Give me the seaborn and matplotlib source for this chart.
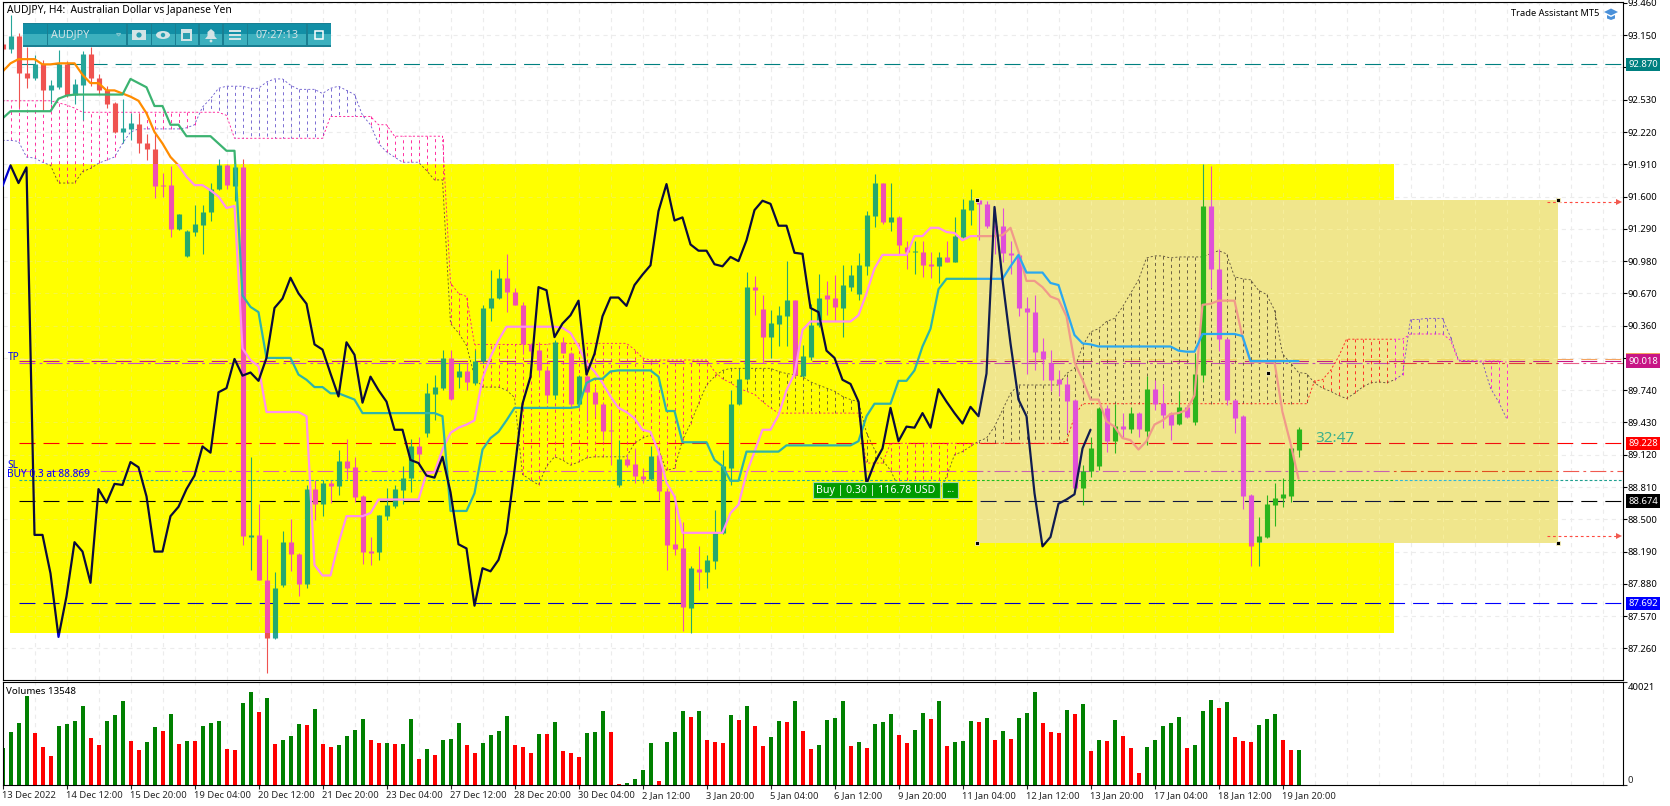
import pandas as pd
import seaborn as sns
import matplotlib
matplotlib.use('Agg')
import matplotlib.pyplot as plt
from matplotlib.patches import Rectangle, Circle, Ellipse, Polygon
from matplotlib.transforms import Bbox, TransformedBbox, blended_transform_factory

# candles, one per bar
opens = [93.07,93.02,93.14,92.79,92.74,92.87,92.62,92.65,92.87,92.58,92.67,92.97,92.74,92.62,92.50,92.22,92.25,92.30,92.11,92.06,
         91.71,91.71,91.29,91.03,91.26,91.33,91.45,91.67,91.90,91.70,91.88,88.33,88.35,87.92,87.36,87.87,88.28,88.17,87.88,88.79,
         88.65,88.85,88.82,89.06,89.00,88.72,88.20,88.19,88.53,88.63,88.78,88.90,89.20,89.33,89.70,89.76,90.05,89.87,89.92,89.81,
         90.02,90.53,90.63,90.82,90.68,90.56,90.18,90.13,89.93,89.69,90.20,90.10,89.61,89.88,89.72,89.61,89.36,88.83,89.08,89.03,
         88.92,88.89,89.12,88.77,88.26,88.22,87.65,88.02,87.99,88.10,88.37,88.99,89.61,89.85,90.73,90.52,90.25,90.38,90.45,90.61,
         89.88,90.06,90.37,90.65,90.63,90.53,90.73,90.66,90.93,91.41,91.73,91.36,91.40,91.12,91.07,91.07,90.95,90.93,91.02,90.97,
         91.21,91.47,91.57,91.53,91.32,91.32,91.06,91.04,90.53,90.49,90.12,90.00,89.85,89.80,89.65,88.80,88.96,89.01,89.57,89.25,
         89.40,89.37,89.52,89.35,89.75,89.62,89.52,89.42,89.58,89.43,89.89,91.51,90.90,90.23,89.65,89.49,88.73,88.28,88.33,88.64,
         88.70,88.72,89.17]
highs = [93.09,93.34,93.17,93.04,92.96,92.91,92.72,93.01,92.90,92.73,93.00,93.04,92.78,92.66,92.51,92.54,92.40,92.40,92.20,92.20,
         91.83,91.89,91.43,91.28,91.52,91.52,91.73,91.96,91.91,91.90,91.96,89.10,88.65,88.31,87.99,88.39,88.50,88.18,88.83,88.88,
         88.88,88.88,89.17,89.27,89.10,88.73,88.33,88.54,88.80,88.83,89.01,89.27,89.29,89.81,89.89,90.13,90.13,90.00,90.00,90.13,
         90.56,90.89,90.90,91.05,90.72,90.59,90.19,90.20,89.97,90.22,90.25,90.11,89.89,89.89,89.77,89.63,89.55,89.26,89.13,89.18,
         88.99,89.20,89.17,88.80,88.72,88.47,88.05,88.24,88.16,88.59,89.17,89.74,89.93,90.88,90.84,90.65,90.51,90.55,90.98,90.61,
         90.17,90.57,90.86,90.79,90.85,90.94,90.94,91.06,91.46,91.82,91.73,91.73,91.41,91.17,91.17,91.17,91.07,91.07,91.17,91.40,
         91.58,91.67,91.58,91.56,91.49,91.49,91.17,91.05,90.64,90.65,90.24,90.13,89.93,89.87,89.66,89.02,89.29,89.58,89.60,89.61,
         89.52,89.58,89.53,89.88,89.84,89.80,89.53,89.73,89.60,90.09,91.91,91.89,91.10,90.24,89.66,89.50,88.74,88.52,88.73,88.85,
         88.90,89.18,89.39]
lows = [93.00,92.98,92.46,92.64,92.72,92.43,92.49,92.63,92.56,92.49,92.34,92.66,92.59,92.45,92.21,92.11,92.14,92.02,91.95,91.59,
        91.60,91.21,91.28,91.02,91.22,91.05,91.37,91.66,91.67,91.56,88.25,88.01,87.92,87.02,87.35,87.85,88.00,87.76,87.84,88.49,
        88.53,88.66,88.73,88.89,88.67,88.07,88.06,88.11,88.49,88.61,88.65,88.76,89.01,89.29,89.45,89.74,89.65,89.76,89.74,89.79,
        90.00,90.40,90.62,90.49,90.56,90.09,90.08,89.87,89.62,89.66,90.10,89.57,89.58,89.44,89.49,89.26,89.02,88.81,89.00,88.85,
        88.85,88.88,88.69,88.01,88.16,87.43,87.41,87.82,87.84,88.02,88.36,88.83,89.60,89.84,90.46,90.00,90.05,90.16,90.16,89.87,
        89.87,90.03,90.35,90.46,90.40,90.25,90.69,90.61,90.85,91.31,91.34,91.27,91.05,90.90,90.86,90.83,90.82,90.77,90.97,90.97,
        91.20,91.33,91.18,91.30,91.05,90.97,90.86,90.45,89.90,89.93,89.84,89.73,89.68,89.33,88.78,88.64,88.91,88.97,89.15,89.14,
        89.29,89.33,89.29,89.21,89.55,89.38,89.26,89.41,89.47,89.41,89.82,90.72,90.12,89.60,89.33,88.60,88.05,88.05,88.32,88.44,
        88.62,88.67,89.10]
closes = [93.02,93.14,92.79,92.74,92.87,92.62,92.67,92.87,92.58,92.68,92.97,92.74,92.62,92.49,92.22,92.26,92.31,92.11,92.06,91.70,
          91.70,91.29,91.43,91.27,91.34,91.45,91.67,91.90,91.71,91.88,88.34,88.35,87.92,87.36,87.84,88.28,88.17,87.88,88.79,88.65,
          88.85,88.82,89.06,88.99,88.71,88.19,88.18,88.54,88.64,88.79,88.90,89.20,89.13,89.71,89.77,90.05,89.66,89.92,89.82,90.02,
          90.53,90.63,90.82,90.68,90.56,90.18,90.12,89.93,89.69,90.20,90.10,89.61,89.88,89.72,89.61,89.35,89.35,89.08,89.02,88.92,
          88.89,89.11,88.77,88.25,88.21,87.66,88.03,87.99,88.11,88.37,89.01,89.61,89.85,90.73,90.70,90.25,90.39,90.46,90.61,89.89,
          90.07,90.37,90.63,90.62,90.54,90.75,90.85,90.94,91.42,91.73,91.36,91.40,91.13,91.07,91.08,90.94,90.93,91.02,90.97,91.22,
          91.48,91.57,91.53,91.32,91.31,91.06,91.04,90.53,90.49,90.11,90.04,89.84,89.80,89.64,88.80,88.96,89.18,89.57,89.25,89.40,
          89.37,89.52,89.37,89.75,89.61,89.50,89.41,89.58,89.48,89.90,91.51,90.90,90.23,89.65,89.47,88.72,88.24,88.34,88.65,88.70,
          88.74,89.18,89.37]

# volumes panel
volumes = [14300,20540,24050,34580,20150,14690,11180,22880,23660,24830,30680,18200,15470,24830,27170,32630,17030,13520,16640,22490,
           20930,27560,15860,17030,17030,22880,24050,24830,13910,13520,31850,36140,28340,33800,15860,17420,18980,23660,23270,29510,
           15860,14690,15470,18980,21320,25610,17420,16250,16250,15860,15860,25610,10010,13910,11570,17420,17810,24050,15470,12350,
           16250,19370,20930,26780,15470,14690,12350,19760,19760,24440,13260,12480,10920,20280,20670,28860,20670,390,780,2340,
           5850,16380,1560,16770,20670,28860,26520,28860,17550,16770,16380,27300,25350,30810,23010,15210,18720,24960,24570,32760,
           21060,14040,15600,25350,26130,32760,15210,16770,14430,23790,24570,27690,19500,16380,21450,28080,25740,32760,15210,16770,
           17160,24960,24570,26130,17550,21060,17940,26130,28080,36270,24180,20670,20280,29250,27690,31590,13260,17550,17160,25350,
           19110,14430,4680,14820,17550,23010,24180,26520,14430,15600,28860,33150,30030,32370,18720,17160,16770,23400,25740,27690,
           17550,13650,13548]
vol_dir = ("gggg rrr gggg rr ggg rr gg r g r g r ggg rr gg r g r ggg r g rr gggg rr g r gg r g r ggg rr gggg rrr g r g "
           "rrr ggg rr gggg r ggg r g rrr g r g rr gg r g rr gggg r g r ggg rr gg r g r ggg r g r g r ggg rrr g r g r g r g "
           "rrr ggggg r ggg r g rrr ggg rr g").replace(' ', '')

# ichimoku
tenkan = [92.80,92.88,92.92,92.92,92.92,92.87,92.87,92.88,92.88,92.88,92.77,92.69,92.69,92.62,92.62,92.59,92.56,92.52,92.40,92.22,
          92.11,91.98,91.90,91.79,91.71,91.71,91.66,91.60,91.49,91.51,90.14,90.03,89.97,89.53,89.53,89.53,89.53,89.53,89.49,88.06,
          87.96,87.96,88.27,88.53,88.53,88.53,88.56,88.69,88.69,88.69,88.69,88.69,88.69,88.94,88.95,89.17,89.33,89.38,89.41,89.45,
          89.85,90.06,90.22,90.35,90.35,90.35,90.35,90.35,90.35,90.35,90.34,90.29,90.16,90.00,89.92,89.81,89.68,89.57,89.53,89.47,
          89.36,89.34,89.15,88.85,88.72,88.37,88.37,88.37,88.37,88.37,88.37,88.56,88.64,88.94,89.15,89.36,89.36,89.50,89.74,89.90,
          90.32,90.40,90.40,90.40,90.40,90.40,90.40,90.46,90.67,90.91,91.04,91.04,91.04,91.04,91.22,91.22,91.30,91.30,91.26,91.25,
          91.18,91.22,91.22,91.22,91.22,91.23,91.30,91.07,90.79,90.79,90.73,90.64,90.61,90.45,90.01,89.84,89.65,89.65,89.44,89.39,
          89.28,89.26,89.17,89.25,89.41,89.45,89.51,89.52,89.55,89.69,90.56,90.57,90.60,90.60,90.60,90.25,90.01,90.01,90.01,90.01,
          89.53,89.23,88.89]
kijun = [92.35,92.42,92.42,92.42,92.42,92.42,92.42,92.54,92.57,92.58,92.58,92.58,92.58,92.58,92.58,92.58,92.73,92.69,92.65,92.47,
         92.47,92.29,92.29,92.18,92.18,92.18,92.18,92.11,92.04,92.04,90.65,90.54,90.49,90.05,90.05,90.05,90.05,89.89,89.84,89.77,
         89.77,89.71,89.71,89.68,89.65,89.52,89.52,89.52,89.52,89.52,89.52,89.52,89.52,89.52,89.52,89.49,88.58,88.58,88.58,88.75,
         89.17,89.28,89.34,89.45,89.57,89.57,89.57,89.57,89.57,89.57,89.57,89.57,89.58,89.81,89.85,89.85,89.92,89.93,89.93,89.93,
         89.93,89.93,89.87,89.54,89.54,89.24,89.24,89.24,89.24,89.07,89.01,88.87,88.87,89.15,89.15,89.15,89.15,89.15,89.21,89.21,
         89.21,89.21,89.21,89.21,89.21,89.21,89.21,89.25,89.49,89.61,89.61,89.61,89.83,89.83,89.93,90.16,90.33,90.71,90.81,90.81,
         90.81,90.81,90.81,90.81,90.81,90.81,90.93,91.04,90.87,90.87,90.87,90.77,90.75,90.51,90.27,90.19,90.18,90.16,90.16,90.16,
         90.16,90.16,90.16,90.16,90.16,90.16,90.16,90.12,90.11,90.11,90.28,90.28,90.28,90.28,90.28,90.26,90.02,90.02,90.02,90.02,
         90.02,90.02,90.02]
chikou = [91.70,91.90,91.73,91.88,88.35,88.35,87.98,87.37,87.76,88.28,88.19,87.89,88.79,88.66,88.84,88.83,89.05,89.00,88.72,88.19,
          88.19,88.53,88.62,88.79,88.92,89.20,89.14,89.72,89.76,90.04,89.88,89.91,89.83,90.05,90.53,90.62,90.82,90.67,90.57,90.18,
          90.13,89.90,89.68,90.20,90.08,89.62,89.87,89.74,89.63,89.36,89.36,89.07,89.04,88.92,88.90,89.10,88.76,88.26,88.22,87.67,
          88.03,88.00,88.11,88.37,88.97,89.61,89.87,90.73,90.70,90.25,90.38,90.46,90.60,89.89,90.09,90.45,90.63,90.63,90.55,90.75,
          90.85,90.94,91.46,91.72,91.37,91.40,91.14,91.08,91.08,90.95,90.93,91.02,90.98,91.18,91.47,91.56,91.53,91.32,91.32,91.06,
          91.05,90.53,90.49,90.12,90.05,89.84,89.80,89.63,88.84,89.04,89.18,89.57,89.25,89.39,89.38,89.52,89.38,89.75,89.63,89.52,
          89.42,89.58,89.49,89.90,91.50,90.80,90.19,89.65,89.49,88.75,88.24,88.33,88.65,88.69,88.74,89.18,89.36]
senkou_a = [92.14,92.14,92.13,91.98,91.97,91.93,91.90,91.73,91.73,91.73,91.84,91.87,91.92,91.95,91.98,92.11,92.22,92.25,92.25,92.25,
            92.25,92.25,92.25,92.26,92.29,92.46,92.54,92.64,92.66,92.66,92.66,92.64,92.64,92.70,92.73,92.73,92.67,92.63,92.63,92.63,
            92.59,92.64,92.66,92.62,92.58,92.38,92.29,92.11,92.03,91.98,91.93,91.93,91.93,91.85,91.76,91.76,90.38,90.29,90.17,89.87,
            89.77,89.77,89.77,89.74,89.67,88.93,88.88,88.83,89.01,89.10,89.07,89.02,89.05,89.09,89.10,89.10,89.10,89.10,89.10,89.23,
            89.28,89.31,89.17,88.97,88.99,89.26,89.42,89.61,89.79,89.87,89.93,89.95,89.95,89.95,89.95,89.95,89.95,89.92,89.90,89.89,
            89.87,89.82,89.79,89.76,89.73,89.68,89.65,89.63,89.33,89.17,89.07,88.97,88.81,88.75,88.70,88.70,88.70,88.75,88.91,89.12,
            89.15,89.20,89.25,89.28,89.39,89.55,89.71,89.79,89.79,89.79,89.79,89.79,89.79,89.90,89.95,90.16,90.30,90.33,90.40,90.43,
            90.54,90.67,90.80,91.01,91.03,91.03,91.01,91.02,91.02,91.02,91.02,91.05,91.08,91.05,90.83,90.81,90.80,90.70,90.66,90.51,
            90.09,90.00,89.91,89.90,89.81,89.76,89.73,89.69,89.66,89.71,89.77,89.81,89.82,89.81,89.84,89.89,90.42,90.42,90.43,90.43,
            90.43,90.25,90.03,90.02,90.02,90.01,89.76,89.63,89.47]
senkou_b = [92.52,92.52,92.52,92.52,92.52,92.52,92.52,92.50,92.48,92.45,92.41,92.41,92.41,92.41,92.41,92.41,92.41,92.41,92.41,92.41,
            92.41,92.41,92.41,92.41,92.41,92.41,92.41,92.41,92.38,92.16,92.16,92.16,92.16,92.16,92.16,92.16,92.16,92.16,92.16,92.16,
            92.16,92.37,92.37,92.37,92.37,92.37,92.37,92.29,92.29,92.18,92.18,92.18,92.18,92.18,92.18,92.18,90.77,90.67,90.64,90.18,
            90.18,90.18,90.18,90.18,90.18,90.18,90.18,90.18,90.18,90.19,90.19,90.19,90.19,90.19,90.19,90.19,90.19,90.19,90.19,90.13,
            90.05,90.03,90.03,90.03,90.03,90.03,90.03,90.03,90.03,89.92,89.85,89.81,89.76,89.73,89.70,89.63,89.57,89.52,89.52,89.52,
            89.52,89.52,89.52,89.52,89.52,89.52,89.52,89.52,89.04,89.04,89.04,89.23,89.23,89.23,89.23,89.23,89.23,89.23,89.23,89.23,
            89.23,89.23,89.23,89.23,89.23,89.23,89.23,89.23,89.23,89.23,89.23,89.23,89.23,89.25,89.49,89.61,89.61,89.61,89.61,89.61,
            89.61,89.61,89.61,89.61,89.61,89.61,89.61,89.61,89.61,89.61,89.61,89.61,89.61,89.61,89.61,89.61,89.61,89.61,89.61,89.61,
            89.61,89.61,89.61,89.61,89.83,89.84,89.93,90.06,90.23,90.23,90.23,90.23,90.23,90.23,90.23,90.23,90.28,90.28,90.28,90.28,
            90.28,90.22,90.02,90.02,90.02,90.02,90.02,90.02,90.01]

# horizontal levels
level_prices = [92.870,90.035,90.018,90.000,89.228,88.960,88.875,88.674,87.692]
level_styles = ['dash','dash','dash','dashdot','dash','dashdot','dot','dash','dash']

# axis text
price_ticks = [93.46,93.15,92.84,92.53,92.22,91.91,91.60,91.29,90.98,90.67,90.36,90.05,89.74,89.43,89.12,88.81,88.50,88.19,87.88,87.57,87.26]
date_labels = ['13 Dec 2022','14 Dec 12:00','15 Dec 20:00','19 Dec 04:00','20 Dec 12:00','21 Dec 20:00','23 Dec 04:00',
               '27 Dec 12:00','28 Dec 20:00','30 Dec 04:00','2 Jan 12:00','3 Jan 20:00','5 Jan 04:00','6 Jan 12:00',
               '9 Jan 20:00','11 Jan 04:00','12 Jan 12:00','13 Jan 20:00','17 Jan 04:00','18 Jan 12:00','19 Jan 20:00']

# objects drawn on the chart, in bars and prices
yellow_box = [0.94, 87.41, 173.9, 91.916]
khaki_box = [121.8, 88.275, 194.4, 91.57]
arrow_prices = [91.55, 88.34]
arrow_bars = [193.1, 202.1]

dash = (0, (11.5, 5.8))
dashdot = (0, (11.5, 3, 2, 3))
dot = (0, (2, 1.5))
hatch = (0, (2.2, 2.4))
edge = (0, (1.5, 1.5))
line_styles = {'dash': dash, 'dashdot': dashdot, 'dot': dot}

pal_white = dict(bull='#26a69a', bear='#ef5350', tenkan='#ff8c00', kijun='#3cb371', chikou='#0000cd',
                 a='#6a5acd', b='#ff1493', grid='#ececec',
                 levels=['#008080','#f4a460','#c71585','#e8608a','#ff0000','#f05a50','#20a090','#000000','#0000ff'])
pal_yellow = dict(bull='#26a96c', bear='#f050b0', tenkan='#ff90f0', kijun='#2fb4a8', chikou='#0a0a3c',
                  a='#6b5a30', b='#ff1a80', grid='#f6f640',
                  levels=['#008080','#fff080','#c71585','#c050d0','#ff0000','#e060b0','#20b0a0','#000000','#0000c8'])
pal_overlap = dict(bull='#2bb51c', bear='#e050d8', tenkan='#f09a8a', kijun='#2aa8f0', chikou='#101c50',
                   a='#5a4e38', b='#ff1a1a', grid='#f6ee9c',
                   levels=['#008080','#f0d860','#c02080','#c050b0','#f01010','#c860b0','#20c020','#101840','#0000c8'])
pal_right = dict(bull='#2bb51c', bear='#e050d8', tenkan='#f09a8a', kijun='#2aa8f0', chikou='#101c50',
                 a='#7a50c8', b='#ff10e0', grid='#f6ee9c',
                 levels=['#008080','#f0d860','#c02080','#e04040','#f01010','#e05020','#30b8d8','#000000','#0000e0'])

sns.set_style('white')
plt.rcParams['font.family'] = ['Noto Sans', 'DejaVu Sans']
plt.rcParams['lines.scale_dashes'] = False
plt.rcParams['axes.linewidth'] = 0.8
FS = 6.8

W, H = 1670, 806
fig = plt.figure(figsize=(W / 100, H / 100), dpi=100)
ax = fig.add_axes([2.5 / W, 1 - 680 / H, (1623 - 2.5) / W, (680 - 2) / H])
ax_vol = fig.add_axes([2.5 / W, 1 - 785 / H, (1623 - 2.5) / W, (785 - 682) / H])
bars = list(range(len(closes)))
xmax = (1623 - 2.5) / 8
ymin = 91.91 - (680 - 164.3) / 104.1
ymax = 91.91 + (164.3 - 2) / 104.1


def draw_layer(axis, pal, clip, z):
    """grid, levels, cloud, candles and lines in one colour set, cut to one box"""
    made = []
    made.append(axis.hlines(price_ticks, 0, xmax, colors=pal['grid'], linewidth=0.8, linestyles=(0, (3, 3)), zorder=z))
    made.append(axis.vlines(range(4, 203, 4), ymin, ymax, colors=pal['grid'], linewidth=0.8, linestyles=(0, (3, 3)), zorder=z))
    for p, st, col in zip(level_prices, level_styles, pal['levels']):
        made.append(axis.hlines(p, 2, xmax, colors=col, linewidth=0.8, linestyles=line_styles[st], zorder=z + 0.1))
    # cloud hatch, one stroke per bar
    hatch_cols = [pal['a'] if a > b else pal['b'] for a, b in zip(senkou_a, senkou_b)]
    made.append(axis.vlines(range(len(senkou_a)), senkou_a, senkou_b, colors=hatch_cols, linewidth=0.62,
                            linestyles=hatch, zorder=z + 0.2))
    for vals, key in [(senkou_a, 'a'), (senkou_b, 'b')]:
        sns.lineplot(x=list(range(len(vals))), y=vals, color=pal[key], linewidth=0.62, linestyle=edge,
                     sort=False, estimator=None, legend=False, zorder=z + 0.2, ax=axis)
        made.append(axis.lines[-1])
    # candles
    cols = [pal['bull'] if c >= o else pal['bear'] for o, c in zip(opens, closes)]
    made.append(axis.vlines(bars, lows, highs, colors=cols, linewidth=0.8, zorder=z + 0.3))
    made.append(axis.vlines(bars, opens, closes, colors=cols, linewidth=3.7, zorder=z + 0.4))
    # indicator lines
    for vals, key in [(tenkan, 'tenkan'), (kijun, 'kijun'), (chikou, 'chikou')]:
        sns.lineplot(x=bars[:len(vals)], y=vals, color=pal[key], linewidth=1.6, sort=False, estimator=None,
                     legend=False, zorder=z + (0.7 if key == 'chikou' else 0.5), ax=axis)
        made.append(axis.lines[-1])
    if clip is not None:
        box = TransformedBbox(Bbox([[clip[0], clip[1]], [clip[2], clip[3]]]), axis.transData)
        for art in made:
            art.set_clip_box(box)


draw_layer(ax, pal_white, None, 2)
ax.add_patch(Rectangle((yellow_box[0], yellow_box[1]), yellow_box[2] - yellow_box[0], yellow_box[3] - yellow_box[1],
                       facecolor='#ffff00', edgecolor='none', zorder=3))
draw_layer(ax, pal_yellow, yellow_box, 4)
ax.add_patch(Rectangle((khaki_box[0], khaki_box[1]), khaki_box[2] - khaki_box[0], khaki_box[3] - khaki_box[1],
                       facecolor='#f0e68c', edgecolor='none', zorder=5))
draw_layer(ax, pal_overlap, [khaki_box[0], khaki_box[1], yellow_box[2], khaki_box[3]], 6)
draw_layer(ax, pal_right, [yellow_box[2], khaki_box[1], khaki_box[2], khaki_box[3]], 6)

# red arrows right of the box and the black anchor squares
for p in arrow_prices:
    ax.plot(arrow_bars, [p, p], color='#ff4a40', linewidth=0.8, linestyle=(0, (2, 2)), zorder=8)
    ax.plot(arrow_bars[1], p, marker='>', markersize=4, color='#f05a50', markeredgewidth=0, zorder=8)
sns.scatterplot(x=[khaki_box[0], khaki_box[0], khaki_box[2], khaki_box[2], 158.2],
                y=[khaki_box[1], khaki_box[3], khaki_box[1], khaki_box[3], 89.91],
                marker='s', s=9, color='black', edgecolor='#fff8c0', linewidth=0.6, legend=False, zorder=9, ax=ax)

ax.set_xlim(0, xmax)
ax.set_ylim(ymin, ymax)
ax.set_xticks([])
ax.set_yticks(price_ticks)
ax.set_yticklabels(['%.3f' % p for p in price_ticks], fontsize=FS)
ax.yaxis.tick_right()
ax.tick_params(axis='y', length=2.8, width=0.8, pad=0.8, color='black', labelcolor='black', right=True)
ax.set_xlabel('')
ax.set_ylabel('')

# price boxes at the axis
to_axis = blended_transform_factory(ax.transAxes, ax.transData)
boxes = [(92.870, '#008080', 'white', '92.870'), (90.035, '#f4a460', '#f4a460', '90.018'), (90.018, '#c71585', 'white', '90.018'),
         (89.228, '#ff0000', 'white', '89.228'), (88.674, '#000000', 'white', '88.674'), (87.692, '#0000ff', 'white', '87.692')]
for p, bg, fg, txt in boxes:
    ax.text(1.0032, p, txt, transform=to_axis, color=fg, fontsize=FS, va='center', ha='left', clip_on=False, zorder=12,
            bbox=dict(facecolor=bg, edgecolor='none', pad=1.6))

# volumes
vol_df = pd.DataFrame({'bar': bars, 'volume': volumes, 'dir': list(vol_dir)})
ax_vol.vlines(range(4, 203, 4), 0, 40040, colors='#ececec', linewidth=0.8, linestyles=(0, (3, 3)), zorder=0)
sns.barplot(data=vol_df, x='bar', y='volume', hue='dir', palette={'g': '#008000', 'r': '#ff0000'}, dodge=False,
            native_scale=True, width=0.5, saturation=1, legend=False, linewidth=0, zorder=2, ax=ax_vol)
ax_vol.set_xlim(0, xmax)
ax_vol.set_ylim(0, 40040)
ax_vol.set_xticks(list(range(0, 161, 8)))
ax_vol.set_xticklabels(date_labels, fontsize=FS, ha='left')
ax_vol.set_yticks([0, 40021])
ax_vol.set_yticklabels(['0', ''], fontsize=FS)
ax_vol.yaxis.tick_right()
ax_vol.get_yticklabels()[0].set_va('bottom')
ax_vol.tick_params(axis='y', length=2.8, width=0.8, pad=0.8, right=True)
ax_vol.tick_params(axis='x', length=3, width=0.8, pad=1.5, bottom=True)
ax_vol.set_xlabel('')
ax_vol.set_ylabel('')

for a in (ax, ax_vol):
    for s in a.spines.values():
        s.set_color('black')
        s.set_linewidth(0.8)

# everything that sits on the chart in screen pixels
ui = fig.add_axes([0, 0, 1, 1], zorder=20)
ui.set_xlim(0, W)
ui.set_ylim(H, 0)
ui.axis('off')
ui.text(7, 10, 'AUDJPY, H4:  Australian Dollar vs Japanese Yen', fontsize=7.4, va='center', color='black')
ui.text(1599, 14, 'Trade Assistant MT5', fontsize=6.7, va='center', ha='right', color='black')
ui.text(1627.5, 687, '40021', fontsize=FS, va='center', color='black')
ui.add_patch(Polygon([[1604, 12], [1611, 8.5], [1618, 12], [1611, 15.5]], facecolor='#4a90d9', edgecolor='none'))
ui.add_patch(Polygon([[1607, 15], [1611, 17], [1615, 15], [1615, 18.5], [1611, 20], [1607, 18.5]], facecolor='#4a90d9', edgecolor='none'))
ui.text(8, 358, 'TP', fontsize=7.3, va='center', color='#0000ff')
ui.text(7, 466, 'SL', fontsize=7.3, va='center', color='#0000ff')
ui.text(7, 474.5, 'BUY 0.3 at 88.869', fontsize=7.3, va='center', color='#0000ff')
ui.text(6, 691.5, 'Volumes 13548', fontsize=7, va='center', color='black')
ui.text(1334.5, 438, '32:47', fontsize=11, va='center', ha='center', color='#3cb08c')

# trade label
ui.add_patch(Rectangle((812.5, 481.7), 127.5, 16.6, facecolor='#009b00', edgecolor='#a8d8a8', linewidth=0.8))
ui.add_patch(Rectangle((941.8, 481.7), 16.2, 16.6, facecolor='#009b00', edgecolor='#a8d8a8', linewidth=0.8))
ui.text(876, 490, 'Buy | 0.30 | 116.78 USD', fontsize=7.6, va='center', ha='center', color='white')
ui.text(950, 490, '...', fontsize=7.6, va='center', ha='center', color='white')

# toolbar
ui.add_patch(Rectangle((23, 23.3), 308, 23.4, facecolor='#1a7f92', edgecolor='none'))
cells = [(23.2, 46.4), (48.2, 125.7), (127.9, 150), (151.8, 174.3), (176, 198), (200, 222), (224, 246.4), (248, 306), (308, 330.4)]
grad = [[0.0], [1.0]]
for x0, x1 in cells:
    ui.imshow(grad, extent=(x0, x1, 45.5, 24.5), aspect='auto', cmap=matplotlib.colors.LinearSegmentedColormap.from_list(
        'bar', ['#128fa6', '#3cb0be']), zorder=2)
ui.set_xlim(0, W)
ui.set_ylim(H, 0)
icon = '#d4e4e6'
ui.text(51, 35, 'AUDJPY', fontsize=7.8, va='center', color=icon, zorder=3)
ui.text(277, 35, '07:27:13', fontsize=7.8, va='center', ha='center', color=icon, zorder=3)
ui.add_patch(Polygon([[116.5, 33.5], [118.6, 36], [120.7, 33.5]], facecolor='none', edgecolor='#7fc4cc', linewidth=0.8, zorder=3))
ui.add_patch(Rectangle((132, 30), 14, 10, facecolor=icon, edgecolor='none', zorder=3))
ui.add_patch(Circle((139, 35), 2.6, facecolor='#2a9fb0', edgecolor='none', zorder=4))
ui.add_patch(Ellipse((163, 35), 14, 8, facecolor=icon, edgecolor='none', zorder=3))
ui.add_patch(Circle((163, 35), 2.2, facecolor='#2a9fb0', edgecolor='none', zorder=4))
ui.add_patch(Rectangle((181, 29), 11, 12, facecolor=icon, edgecolor='none', zorder=3))
ui.add_patch(Rectangle((183, 33), 7, 6, facecolor='#2a9fb0', edgecolor='none', zorder=4))
ui.add_patch(Polygon([[205, 39], [207.5, 36], [207.5, 32], [211, 29], [214.5, 32], [214.5, 36], [217, 39]], facecolor=icon, edgecolor='none', zorder=3))
ui.add_patch(Circle((211, 41), 1.4, facecolor=icon, edgecolor='none', zorder=3))
for yy in (31, 35, 39):
    ui.add_patch(Rectangle((229, yy - 0.8), 12, 1.6, facecolor=icon, edgecolor='none', zorder=3))
ui.add_patch(Rectangle((315, 31), 8, 8, facecolor='none', edgecolor='white', linewidth=1.1, zorder=3))

plt.savefig('out.png', dpi=100)
